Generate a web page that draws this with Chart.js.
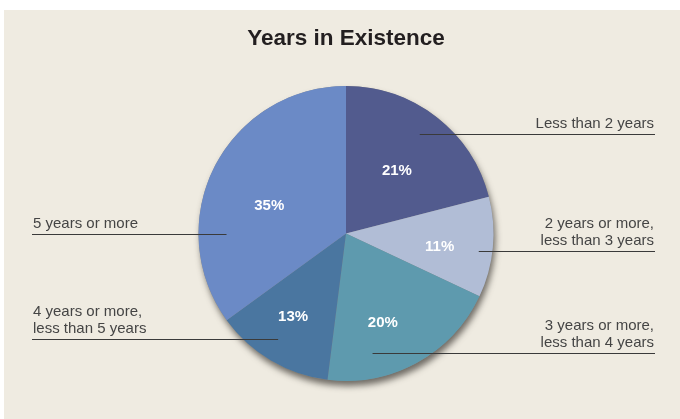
<!DOCTYPE html>
<html>
<head>
<meta charset="utf-8">
<script src="https://cdn.jsdelivr.net/npm/chart.js@4.4.0/dist/chart.umd.min.js"></script>
<style>
    html, body { margin: 0; padding: 0; background: #ffffff; }
    #wrap { width: 680px; height: 419px; }
</style>
</head>
<body>
<div id="wrap"><canvas id="yearsChart" width="680" height="419"></canvas></div>
<script>
// Data
const categories = [
    ['Less than 2 years'],
    ['2 years or more,', 'less than 3 years'],
    ['3 years or more,', 'less than 4 years'],
    ['4 years or more,', 'less than 5 years'],
    ['5 years or more']
];
const shares = [21, 11, 20, 13, 35];
const sliceColors = ['#525b8e', '#b1bdd6', '#5e9aae', '#4a76a0', '#6b8ac6'];

// Callout layout: side, leader line y / inner end x (in radius units from the centre),
// and where the percent label sits (radius fraction, angle nudge in degrees)
const callouts = [
    { side: 'right', fy: -0.676, fx: 0.50, lr: 0.553, da: 0.8 },
    { side: 'right', fy: 0.122, fx: 0.90, lr: 0.64, da: 1.9 },
    { side: 'right', fy: 0.811, fx: 0.18, lr: 0.645, da: 6 },
    { side: 'left', fy: 0.716, fx: -0.46, lr: 0.66, da: 2.3 },
    { side: 'left', fy: 0.0, fx: -0.81, lr: 0.556, da: -6.4 }
];

const panelBackground = {
    id: 'panelBackground',
    beforeDraw(chart) {
        const ctx = chart.ctx;
        ctx.save();
        ctx.fillStyle = '#ffffff';
        ctx.fillRect(0, 0, chart.width, chart.height);
        ctx.fillStyle = '#efebe1';
        ctx.fillRect(4, 10, chart.width - 4, chart.height - 10);
        ctx.restore();
    }
};

// Soft drop shadow under the pie
const pieShadow = {
    id: 'pieShadow',
    beforeDatasetsDraw(chart) {
        const arc = chart.getDatasetMeta(0).data[0];
        if (!arc) return;
        const ctx = chart.ctx;
        ctx.save();
        ctx.shadowColor = 'rgba(70, 65, 60, 0.75)';
        ctx.shadowBlur = 6;
        ctx.shadowOffsetX = 2;
        ctx.shadowOffsetY = 5;
        ctx.fillStyle = '#8c8a86';
        ctx.beginPath();
        ctx.arc(arc.x, arc.y, arc.outerRadius, 0, Math.PI * 2);
        ctx.fill();
        ctx.restore();
    }
};

const callout = {
    id: 'callout',
    afterDatasetsDraw(chart) {
        const ctx = chart.ctx;
        const meta = chart.getDatasetMeta(0);
        const total = shares.reduce((a, b) => a + b, 0);
        meta.data.forEach((arc, i) => {
            const c = callouts[i];
            const r = arc.outerRadius;
            const cx = arc.x, cy = arc.y;

            // percent label, visually centred on its anchor
            const mid = (arc.startAngle + arc.endAngle) / 2 + c.da * Math.PI / 180;
            const lx = cx + Math.cos(mid) * r * c.lr;
            const ly = cy + Math.sin(mid) * r * c.lr;
            ctx.save();
            ctx.font = 'bold 15px "Liberation Sans", Arial, sans-serif';
            ctx.fillStyle = '#ffffff';
            ctx.textAlign = 'center';
            ctx.textBaseline = 'alphabetic';
            ctx.fillText(Math.round(shares[i] / total * 100) + '%', lx, ly + 5.5);
            ctx.restore();

            // leader line and category text
            const lineY = Math.round(cy + c.fy * r) + 0.5;
            const innerX = cx + c.fx * r;
            const outerX = c.side === 'right' ? 655 : 32;
            ctx.save();
            ctx.strokeStyle = '#3a3a3a';
            ctx.lineWidth = 1;
            ctx.beginPath();
            ctx.moveTo(innerX, lineY);
            ctx.lineTo(outerX, lineY);
            ctx.stroke();

            ctx.font = '15px "Liberation Sans", Arial, sans-serif';
            ctx.fillStyle = '#454545';
            ctx.textBaseline = 'alphabetic';
            ctx.textAlign = c.side === 'right' ? 'right' : 'left';
            const lines = categories[i];
            const tx = c.side === 'right' ? 654 : 33;
            lines.forEach((t, k) => {
                const base = lineY - 7 - (lines.length - 1 - k) * 16.5;
                ctx.fillText(t, tx, base);
            });
            ctx.restore();
        });
    }
};

new Chart(document.getElementById('yearsChart'), {
    type: 'pie',
    data: {
        labels: categories.map(l => l.join(' ')),
        datasets: [{
            data: shares,
            backgroundColor: sliceColors,
            borderWidth: 0
        }]
    },
    options: {
        responsive: false,
        animation: false,
        layout: {
            padding: { top: 0, bottom: 38, left: 198, right: 186 }
        },
        plugins: {
            legend: { display: false },
            tooltip: { enabled: false },
            title: {
                display: true,
                text: 'Years in Existence',
                color: '#231f20',
                font: { family: '"Liberation Sans", Arial, sans-serif', size: 22.5, weight: 'bold' },
                padding: { top: 25, bottom: 34 }
            }
        }
    },
    plugins: [panelBackground, pieShadow, callout]
});
</script>
</body>
</html>
